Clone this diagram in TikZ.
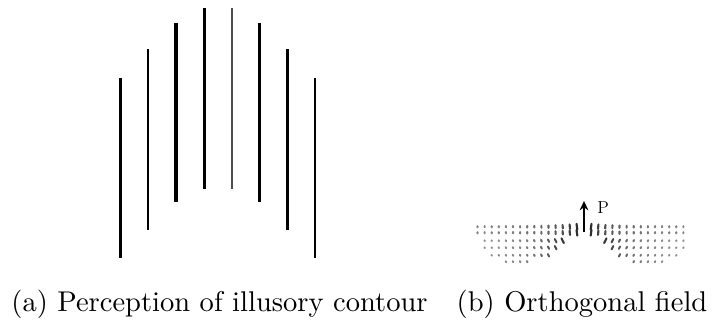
\documentclass[tikz,border=0pt]{standalone}
\usetikzlibrary{arrows.meta}
\begin{document}
\begin{tikzpicture}[x=0.75pt,y=-0.75pt,
  thickbar/.style={line width=2.3pt,black},
  thinbar/.style={line width=1.3pt,black},
  caption/.style={anchor=base,inner sep=0pt},
  glyph/.style={line cap=round}]
\useasboundingbox (0,0) rectangle (716,320);
% illusory contour bars
\draw[thickbar] (120.7,77.7) -- (120.7,258.3);
\draw[thinbar]  (148.3,49.3) -- (148.3,230);
\draw[thickbar] (176,22.7) -- (176,201.7);
\draw[thickbar] (204.3,8) -- (204.3,189.3);
\draw[thinbar,black!70] (232,8) -- (232,189.3);
\draw[thickbar] (259.3,22.7) -- (259.3,201.7);
\draw[thickbar] (287.7,49.3) -- (287.7,230);
\draw[thinbar]  (315,77.7) -- (315,258.3);
% orthogonal field
\def\cx{584}
\foreach \yy in {226.7,232.7} {
  \foreach \i in {-15,...,14} {
    \ifnum\i=0\relax\else
    \pgfmathsetmacro{\d}{abs(\i)}
    \pgfmathsetmacro{\L}{1.0+6.5*exp(-\d/3.2)}
    \pgfmathsetmacro{\g}{45+45*exp(-\d/5)}
    \pgfmathsetmacro{\t}{(\i<0?1:-1)*10*exp(-\d/4)}
    \draw[glyph,line width=1.6pt,black!\g] ({\cx+\i*7.1-\L*sin(\t)/2},{\yy-\L/2}) -- ({\cx+\i*7.1+\L*sin(\t)/2},{\yy+\L/2});
    \fi
  }
}
\foreach \yy/\lo/\hi/\rlo/\rhi in {240.7/-14/-3/3/14,247.7/-14/-4/4/14,255.3/-13/-5/5/13,261.7/-11/-8/7/11} {
  \foreach \i in {\lo,...,\hi} {
    \pgfmathsetmacro{\d}{abs(\i)}
    \pgfmathsetmacro{\L}{0.8+4*exp(-(\d-3)/2.2)}
    \pgfmathsetmacro{\g}{40+40*exp(-(\d-3)/4)}
    \draw[glyph,line width=1.5pt,black!\g] ({\cx+\i*7.1-\L*sin(30)/2},{\yy-\L/2}) -- ({\cx+\i*7.1+\L*sin(30)/2},{\yy+\L/2});
  }
  \foreach \i in {\rlo,...,\rhi} {
    \pgfmathsetmacro{\d}{abs(\i)}
    \pgfmathsetmacro{\L}{0.8+4*exp(-(\d-3)/2.2)}
    \pgfmathsetmacro{\g}{40+40*exp(-(\d-3)/4)}
    \draw[glyph,line width=1.5pt,black!\g] ({\cx+\i*7.1+\L*sin(30)/2},{\yy-\L/2}) -- ({\cx+\i*7.1-\L*sin(30)/2},{\yy+\L/2});
  }
}
\coordinate (pbase) at (584,232);
\coordinate (ptip) at (584,201);
\draw[line width=1.3pt,-{Stealth[length=7pt,width=6.5pt]}] (pbase) -- (ptip);
\node[font=\fontsize{13}{14}\selectfont,anchor=base west,inner sep=0pt] (plabel) at (597,214) {P};
% captions
\node[caption] (capa) at (219.5,311) {\scalebox{2.14}{(a) Perception of illusory contour}};
\node[caption] (capb) at (582,311) {\scalebox{2.14}{(b) Orthogonal field}};
\end{tikzpicture}
\end{document}
